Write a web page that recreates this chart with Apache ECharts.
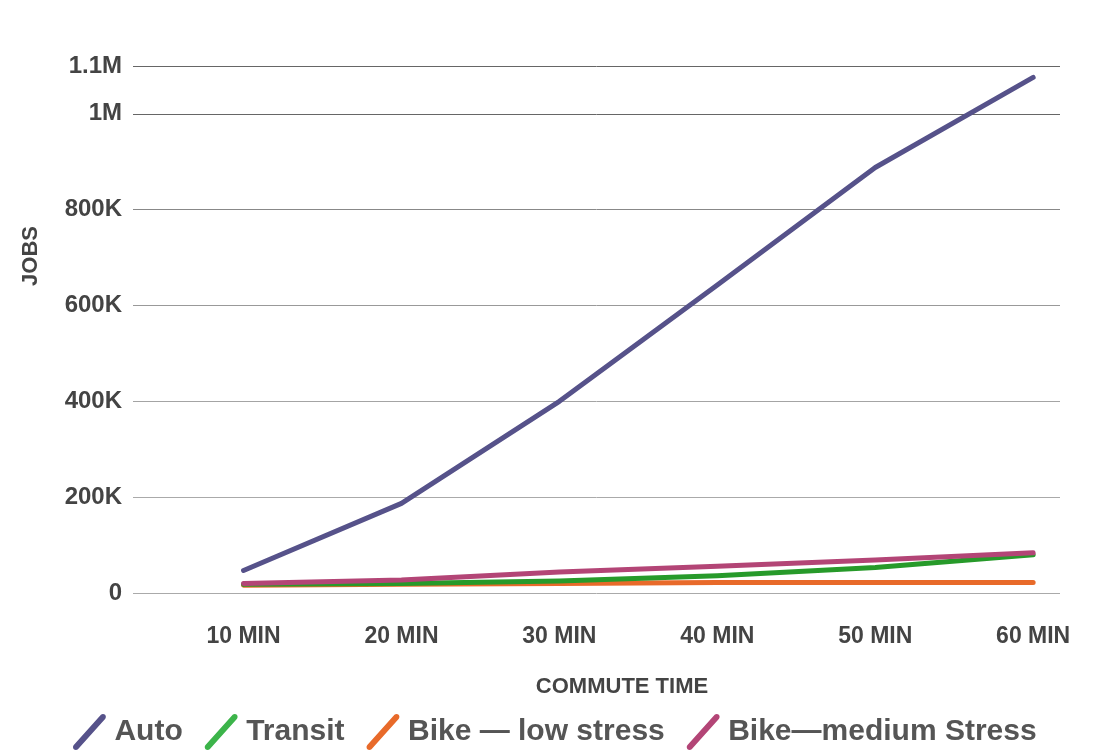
<!DOCTYPE html>
<html>
<head>
<meta charset="utf-8">
<script src="https://cdn.jsdelivr.net/npm/echarts@6/dist/echarts.min.js"></script>
<style>
  html, body { margin: 0; padding: 0; background: #fff; }
  #chart { width: 1117px; height: 752px; }
</style>
</head>
<body>
<div id="chart"></div>
<script>
// commute time (minutes) and jobs reachable
const minutes = [10, 20, 30, 40, 50, 60]
const auto = [47000, 187000, 400000, 643000, 888000, 1076000]
const transit = [18000, 20000, 25000, 36000, 53000, 80000]
const bikeLow = [16000, 18000, 20000, 22000, 22000, 22000]
const bikeMedium = [20000, 27000, 44000, 56000, 69000, 84000]
const yTicks = [0, 200000, 400000, 600000, 800000, 1000000, 1100000]

const font = '"Liberation Sans", Arial, sans-serif'
const slash = 'path://M0,30 L26,1 C27,0 29,0 30,1 C31,2 31,4 30,5 L4,34 C3,35 1,35 0,34 C-1,33 -1,31 0,30 Z'

const pairs = arr => minutes.map((m, i) => [m, arr[i]])

const fmtJobs = v => {
  if (v >= 1000000) return (v / 1000000) + 'M'
  if (v >= 1000) return (v / 1000) + 'K'
  return String(v)
}

const chart = echarts.init(document.getElementById('chart'))

const lineSeries = (name, data, color, iconColor, z) => ({
  name,
  type: 'line',
  data: pairs(data),
  symbol: 'none',
  z,
  itemStyle: { color: iconColor },
  lineStyle: { color, width: 5, cap: 'round', join: 'round' }
})

const option = {
  animation: false,
  textStyle: { fontFamily: font },
  grid: { left: 133, right: 57, top: 18, bottom: 159 },
  xAxis: {
    type: 'value',
    min: 3,
    max: 61.7,
    axisLine: { show: false },
    axisTick: { show: false, customValues: minutes },
    splitLine: { show: false },
    axisLabel: {
      customValues: minutes,
      formatter: v => v + ' MIN',
      margin: 32,
      color: '#444',
      fontWeight: 'bold',
      fontSize: 23,
      fontFamily: font
    }
  },
  yAxis: {
    type: 'value',
    min: 0,
    max: 1200000,
    axisLine: { show: false },
    axisTick: { show: false, customValues: yTicks },
    splitLine: {
      lineStyle: {
        color: ['#aaaaaa', '#aaaaaa', '#a4a4a4', '#999999', '#888888', '#666666', '#666666'],
        width: 1
      }
    },
    axisLabel: {
      customValues: yTicks,
      formatter: fmtJobs,
      margin: 11,
      color: '#444',
      fontWeight: 'bold',
      fontSize: 24,
      fontFamily: font
    }
  },
  legend: {
    left: 68,
    top: 709,
    icon: slash,
    itemWidth: 34,
    itemHeight: 36,
    itemGap: 22,
    data: ['Auto', 'Transit', 'Bike — low stress', 'Bike—medium Stress'],
    textStyle: {
      color: '#555',
      fontWeight: 'bold',
      fontSize: 30,
      fontFamily: font,
      padding: [0, 0, 0, 3]
    }
  },
  graphic: [
    {
      type: 'text',
      x: 31,
      y: 256,
      rotation: Math.PI / 2,
      style: {
        text: 'JOBS',
        fill: '#444',
        font: 'bold 22px ' + font,
        textAlign: 'center',
        textVerticalAlign: 'middle'
      }
    },
    {
      type: 'text',
      x: 622,
      y: 687,
      style: {
        text: 'COMMUTE TIME',
        fill: '#444',
        font: 'bold 22px ' + font,
        textAlign: 'center',
        textVerticalAlign: 'middle'
      }
    }
  ],
  series: [
    lineSeries('Bike — low stress', bikeLow, '#e86a2a', '#e86a2a', 2),
    lineSeries('Transit', transit, '#279a2a', '#3cb44a', 3),
    lineSeries('Bike—medium Stress', bikeMedium, '#b34576', '#b34576', 4),
    lineSeries('Auto', auto, '#56528a', '#56528a', 5)
  ]
}

chart.setOption(option)
</script>
</body>
</html>
